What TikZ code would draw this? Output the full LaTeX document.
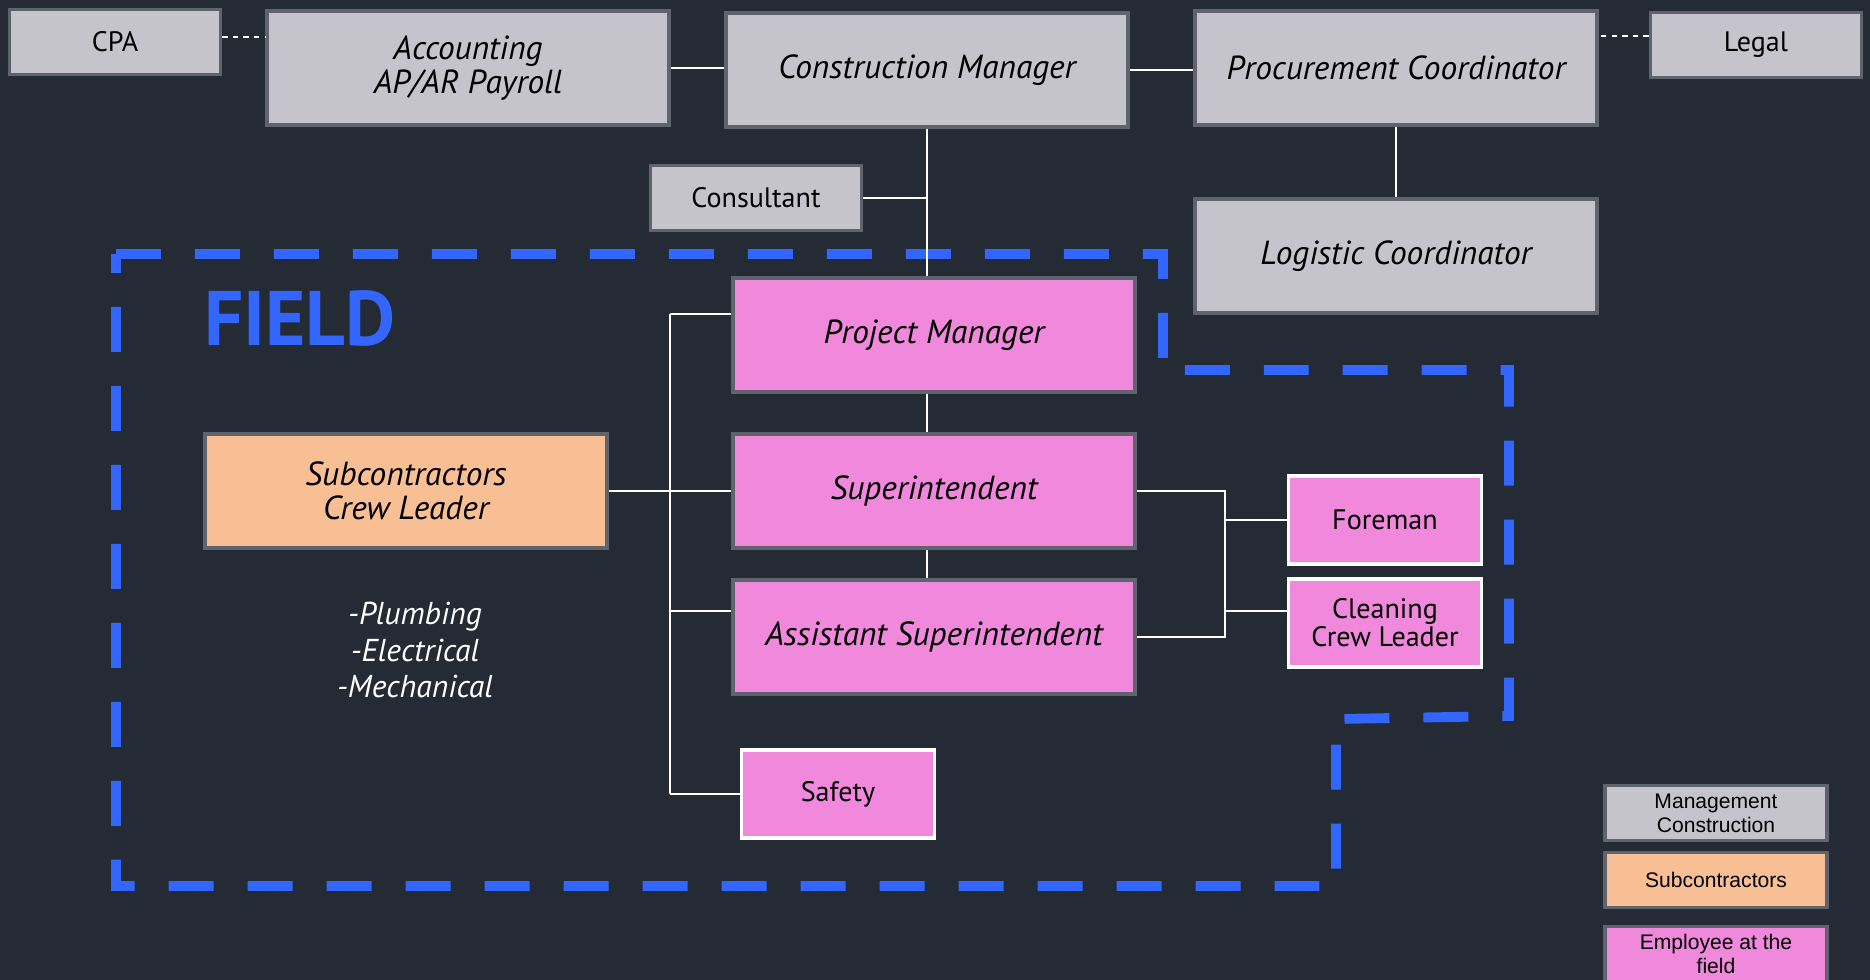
\documentclass[tikz,border=0pt]{standalone}
\usepackage{fontspec}
\setmainfont{PT Sans}
\newfontfamily\legendfont{Liberation Sans}
\usetikzlibrary{positioning}

\definecolor{bgdark}{RGB}{37,43,52}
\definecolor{mgmtgrey}{RGB}{197,196,204}
\definecolor{boxedge}{RGB}{94,99,110}
\definecolor{subpeach}{RGB}{248,190,148}
\definecolor{fieldpink}{RGB}{240,136,219}
\definecolor{fieldblue}{RGB}{51,102,255}

\begin{document}
\begin{tikzpicture}[x=0.02cm, y=-0.02cm,
    box/.style={draw=boxedge, line width=2.2pt, text=black, align=center, inner sep=0pt, font=\fontsize{16}{16}\selectfont},
    mgmt/.style={box, fill=mgmtgrey},
    sub/.style={box, fill=subpeach},
    emp/.style={box, fill=fieldpink},
    empw/.style={emp, draw=white},
    wide/.style={minimum width=8.04cm, minimum height=2.28cm, font=\fontsize{19}{19.5}\selectfont\itshape},
    small/.style={minimum width=4.22cm, minimum height=1.3cm},
    tiny/.style={minimum width=3.86cm, minimum height=1.76cm},
    legend/.style={box, minimum width=4.44cm, minimum height=1.1cm, font=\fontsize{12}{13.5}\selectfont\legendfont},
    link/.style={draw=white, line width=1.2pt}]

    \useasboundingbox[fill=bgdark] (0,0) rectangle (1870,980);

    % field area
    \draw[fieldblue, line width=5.6pt, dash pattern=on 0.9cm off 0.68cm]
        (116,254) -- (1163,254) -- (1163,370) -- (1509,370) -- (1509,716)
        -- (1336,719) -- (1336,886) -- (116,886) -- cycle;
    \node[text=fieldblue, font=\fontsize{44}{44}\selectfont\bfseries, anchor=west] (field) at (198,318) {FIELD};

    % management
    \node[mgmt, small] (cpa) at (115,42) {CPA};
    \node[mgmt, wide] (acc) at (468,68) {Accounting\\AP/AR Payroll};
    \node[mgmt, wide] (cm) at (927,70) {Construction Manager};
    \node[mgmt, wide] (proc) at (1396,68) {Procurement Coordinator};
    \node[mgmt, small] (legal) at (1756,45) {Legal};
    \node[mgmt, small] (cons) at (756,198) {Consultant};
    \node[mgmt, wide] (logi) at (1396,256) {Logistic Coordinator};

    % field employees
    \node[emp, wide] (pm) at (934,335) {Project Manager};
    \node[emp, wide] (super) at (934,491) {Superintendent};
    \node[emp, wide] (asst) at (934,637) {Assistant Superintendent};
    \node[sub, wide] (crew) at (406,491) {Subcontractors\\Crew Leader};
    \node[empw, tiny] (fore) at (1385,520) {Foreman};
    \node[empw, tiny] (clean) at (1385,623) {Cleaning\\Crew Leader};
    \node[empw, tiny] (safety) at (838,794) {Safety};

    \node[text=white, align=center, font=\fontsize{18}{21}\selectfont\itshape] (trades) at (415,650) {-Plumbing\\-Electrical\\-Mechanical};

    % legend
    \node[legend, fill=mgmtgrey] (lgmgmt) at (1716,813) {Management\\Construction};
    \node[legend, fill=subpeach] (lgsub) at (1716,880) {Subcontractors};
    \node[legend, fill=fieldpink] (lgemp) at (1716,954) {Employee at the\\field};

    % connectors
    \coordinate (busL) at (670,314);
    \coordinate (busR) at (1225,491);

    \draw[link, dashed] ([yshift=0.1cm]cpa.east) -- ([yshift=0.1cm]cpa.east -| acc.west);
    \draw[link] (acc.east) -- (acc.east -| cm.west);
    \draw[link] (cm.east) -- (cm.east -| proc.west);
    \draw[link, dashed] ([yshift=0.18cm]legal.west) -- ([yshift=0.18cm]legal.west -| proc.east);
    \draw[link] (proc.south) -- (logi.north);
    \draw[link] (cm.south) -- (cm.south |- pm.north);
    \draw[link] (cons.east) -- (cons.east -| cm.south);
    \draw[link] (pm.south -| cm.south) -- (super.north -| cm.south);
    \draw[link] (super.south -| cm.south) -- (asst.north -| cm.south);

    \draw[link] (busL) -- (busL -| pm.west);
    \draw[link] (busL) -- (busL |- safety.west);
    \draw[link] (crew.east) -- (super.west);
    \draw[link] ([yshift=0.52cm]asst.west) -- ([yshift=0.52cm]asst.west -| busL);
    \draw[link] (safety.west) -- (safety.west -| busL);

    \draw[link] (super.east) -- (super.east -| busR) -- (asst.east -| busR) -- (asst.east);
    \draw[link] (fore.west) -- (fore.west -| busR);
    \draw[link] ([yshift=0.24cm]clean.west) -- ([yshift=0.24cm]clean.west -| busR);

\end{tikzpicture}
\end{document}
